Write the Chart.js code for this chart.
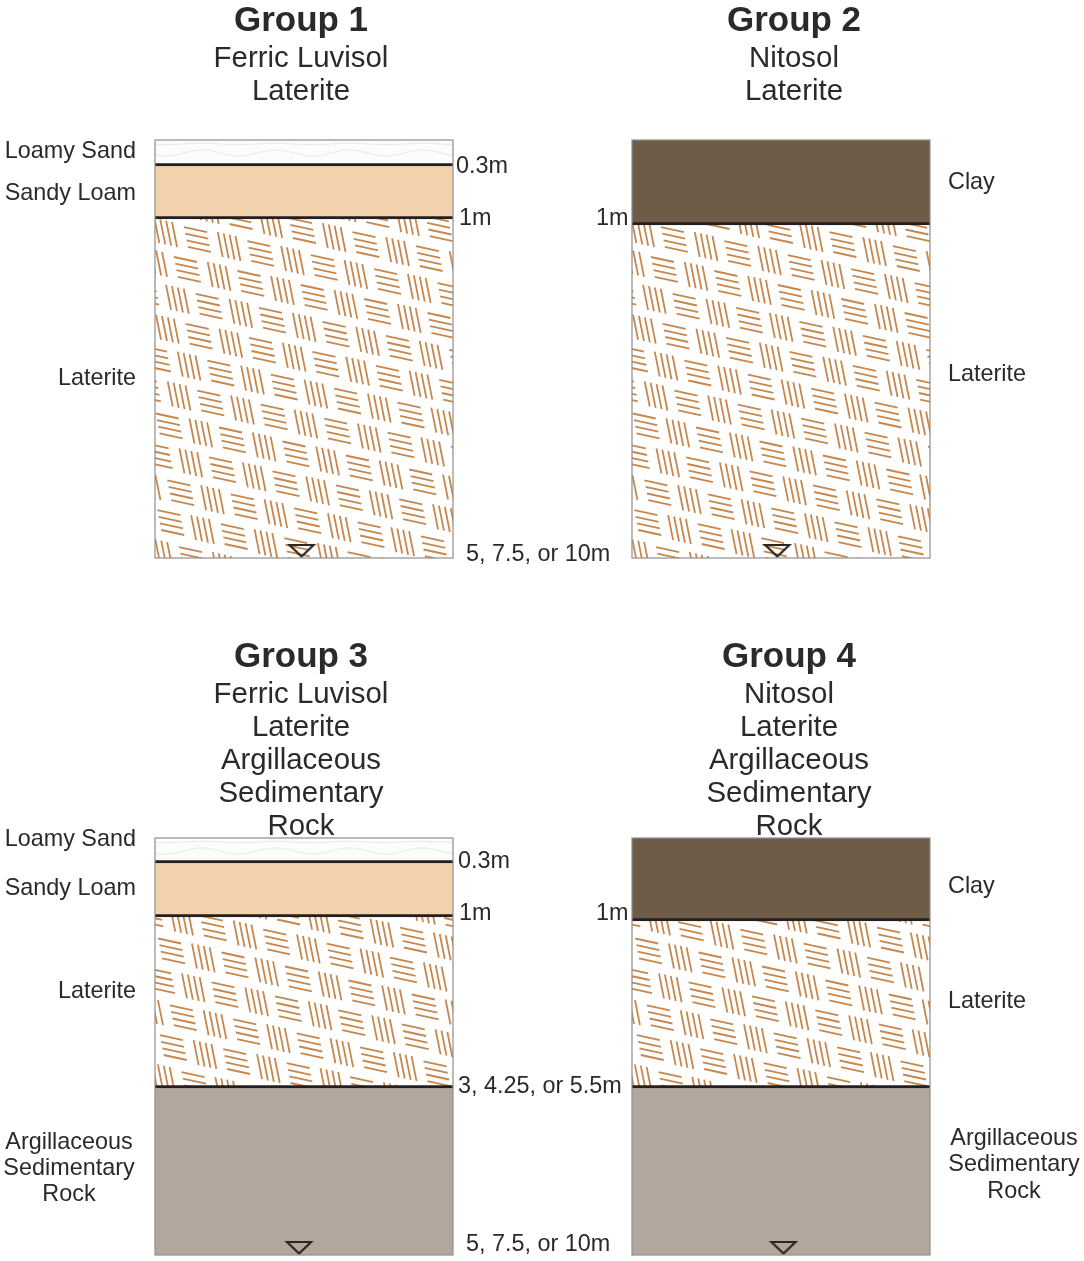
<!DOCTYPE html>
<html>
<head>
<meta charset="utf-8">
<title>Soil profiles</title>
<script src="https://cdn.jsdelivr.net/npm/chart.js@4"></script>
<style>
  html, body { margin: 0; background: #fff; }
  #page { position: relative; width: 1084px; height: 1261px; overflow: hidden; }
  canvas { position: absolute; }
</style>
</head>
<body>
<div id="page"></div>
<script>
// Layer thicknesses are as drawn (the profiles are schematic, not to scale)
const group1Layers = ["Loamy Sand", "Sandy Loam", "Laterite"];
const group1Thickness = [26, 53, 339];
const group1Titles = ["Group 1", "Ferric Luvisol", "Laterite"];
const group1Depths = ["0.3m", "1m", "5, 7.5, or 10m"];

const group2Layers = ["Clay", "Laterite"];
const group2Thickness = [85, 333];
const group2Titles = ["Group 2", "Nitosol", "Laterite"];
const group2Depths = ["1m"];

const group3Layers = ["Loamy Sand", "Sandy Loam", "Laterite", "Argillaceous Sedimentary Rock"];
const group3Thickness = [25, 54, 171, 167];
const group3Titles = ["Group 3", "Ferric Luvisol", "Laterite", "Argillaceous", "Sedimentary", "Rock"];
const group3Depths = ["0.3m", "1m", "3, 4.25, or 5.5m", "5, 7.5, or 10m"];

const group4Layers = ["Clay", "Laterite", "Argillaceous Sedimentary Rock"];
const group4Thickness = [83, 167, 167];
const group4Titles = ["Group 4", "Nitosol", "Laterite", "Argillaceous", "Sedimentary", "Rock"];
const group4Depths = ["1m"];

const FONT = '"Liberation Sans", Arial, sans-serif';
const TEXT = "#2a2a2a";

// Brown basket-weave hatch, drawn on a canvas the size of the chart
function lateriteFill(w, h, ox, oy) {
  const c = document.createElement("canvas");
  c.width = w;
  c.height = h;
  const g = c.getContext("2d");
  g.fillStyle = "#fff";
  g.fillRect(0, 0, w, h);
  g.strokeStyle = "#c8874c";
  g.lineWidth = 1.8;
  for (let q = -30; q < 30; q++) {
    for (let p = -30; p < 30; p++) {
      const cx = ox + p * 31.7 - q * 10;
      const cy = oy + p * 7 + q * 29.9;
      const horizontal = (((p + Math.floor(q / 2)) % 2) + 2) % 2 === 1;
      for (let i = -1.5; i <= 1.5; i++) {
        let x, y, dx, dy;
        if (horizontal) {
          x = cx + i * 1.3; y = cy + i * 6.6; dx = 11.5; dy = 2.5;
        } else {
          x = cx + i * 5.9; y = cy + i * 1.3; dx = 2.5; dy = 12.5;
        }
        g.beginPath();
        g.moveTo(x - dx, y - dy);
        g.lineTo(x + dx, y + dy);
        g.stroke();
      }
    }
  }
  return g.createPattern(c, "no-repeat");
}

// Faint wavy lines of the loamy sand
function sandFill(w, h, top) {
  const c = document.createElement("canvas");
  c.width = w;
  c.height = h;
  const g = c.getContext("2d");
  g.fillStyle = "#fcfcfb";
  g.fillRect(0, 0, w, h);
  g.strokeStyle = "#ebe9e6";
  g.lineWidth = 1;
  for (const [base, amp] of [[4, 0.6], [13, 3]]) {
    g.beginPath();
    for (let x = 0; x < w; x += 2) {
      const y = top + base + amp * Math.sin(x / 11.7);
      if (x === 0) g.moveTo(x, y); else g.lineTo(x, y);
    }
    g.stroke();
  }
  return g.createPattern(c, "no-repeat");
}

function waterMarker() {
  const c = document.createElement("canvas");
  c.width = 30;
  c.height = 18;
  const g = c.getContext("2d");
  g.strokeStyle = "#2b2624";
  g.lineWidth = 2.2;
  g.beginPath();
  g.moveTo(3, 3);
  g.lineTo(27, 3);
  g.lineTo(15, 14.5);
  g.closePath();
  g.stroke();
  return c;
}

const profileText = {
  id: "profileText",
  afterDraw(chart, args, opts) {
    const ctx = chart.ctx;
    ctx.save();
    ctx.textBaseline = "middle";
    for (const t of opts.items) {
      ctx.font = t.font || "23.4px " + FONT;
      ctx.fillStyle = TEXT;
      ctx.textAlign = t.align || "left";
      ctx.fillText(t.text, t.x - opts.left, t.y - opts.top + 2);
    }
    ctx.restore();
  }
};

const boxOutline = {
  id: "boxOutline",
  afterDatasetsDraw(chart) {
    const a = chart.chartArea, ctx = chart.ctx;
    ctx.save();
    ctx.strokeStyle = "#8e8e8e";
    ctx.lineWidth = 1.2;
    ctx.strokeRect(a.left, a.top, a.width, a.height);
    ctx.restore();
  }
};

function titleItems(lines, x) {
  return lines.map((text, i) => ({
    text,
    x,
    y: i === 0 ? 0 : 38 + (i - 1) * 33,
    align: "center",
    font: i === 0 ? "bold 35px " + FONT : "29.4px " + FONT
  }));
}

function shifted(items, dy) {
  return items.map(t => ({ ...t, y: t.y + dy }));
}

function drawProfile(p) {
  const canvas = document.createElement("canvas");
  canvas.width = p.canvas[2];
  canvas.height = p.canvas[3];
  canvas.style.left = p.canvas[0] + "px";
  canvas.style.top = p.canvas[1] + "px";
  document.getElementById("page").appendChild(canvas);

  const [boxL, boxT, boxR, boxB] = p.box;
  const left = boxL - p.canvas[0];
  const top = boxT - p.canvas[1];
  const total = p.thickness.reduce((a, b) => a + b, 0);

  const fills = {
    "Loamy Sand": () => sandFill(canvas.width, canvas.height, top),
    "Sandy Loam": () => "#f2d2ad",
    "Clay": () => "#6f5c48",
    "Laterite": () => lateriteFill(canvas.width, canvas.height, left + p.hatch[0], top + p.hatch[1]),
    "Argillaceous Sedimentary Rock": () => "#b1a79c"
  };

  const datasets = p.layers.map((name, i) => ({
    type: "bar",
    label: name,
    data: [{ x: 0.5, y: p.thickness[i] }],
    backgroundColor: fills[name](),
    borderColor: "#231f20",
    borderWidth: i < p.layers.length - 1 ? { bottom: 3 } : 0,
    borderSkipped: false,
    barThickness: boxR - boxL,
    stack: "profile",
    order: 2
  }));
  // Water table marker
  datasets.push({
    type: "scatter",
    label: "Water table",
    data: [{ x: p.water, y: total - 7 }],
    pointStyle: waterMarker(),
    clip: false,
    order: 1
  });

  new Chart(canvas, {
    data: { datasets },
    options: {
      responsive: false,
      animation: false,
      devicePixelRatio: 1,
      layout: {
        padding: {
          left,
          top,
          right: p.canvas[0] + p.canvas[2] - boxR,
          bottom: p.canvas[1] + p.canvas[3] - boxB
        }
      },
      scales: {
        x: { type: "linear", min: 0, max: 1, stacked: true, display: false },
        y: { type: "linear", stacked: true, reverse: true, min: 0, max: total, display: false }
      },
      plugins: {
        legend: { display: false },
        tooltip: { enabled: false },
        profileText: { items: p.text, left: p.canvas[0], top: p.canvas[1] }
      }
    },
    plugins: [boxOutline, profileText]
  });
}

drawProfile({
  canvas: [0, 0, 640, 620],
  box: [155, 140, 453, 558],
  layers: group1Layers,
  thickness: group1Thickness,
  water: 0.49,
  hatch: [10.7, 92.5],
  text: [
    ...shifted(titleItems(group1Titles, 301), 19),
    { text: "Loamy Sand", x: 136, y: 150, align: "right" },
    { text: "Sandy Loam", x: 136, y: 192, align: "right" },
    { text: "Laterite", x: 136, y: 377, align: "right" },
    { text: group1Depths[0], x: 456, y: 165 },
    { text: group1Depths[1], x: 459, y: 217 },
    { text: group1Depths[2], x: 466, y: 553 }
  ]
});

drawProfile({
  canvas: [520, 0, 564, 620],
  box: [632, 140, 930, 558],
  layers: group2Layers,
  thickness: group2Thickness,
  water: 0.485,
  hatch: [10.7, 92.5],
  text: [
    ...shifted(titleItems(group2Titles, 794), 19),
    { text: "Clay", x: 948, y: 181 },
    { text: "Laterite", x: 948, y: 373 },
    { text: group2Depths[0], x: 596, y: 217 }
  ]
});

drawProfile({
  canvas: [0, 630, 640, 631],
  box: [155, 838, 453, 1255],
  layers: group3Layers,
  thickness: group3Thickness,
  water: 0.48,
  hatch: [36.6, 53.1],
  text: [
    ...shifted(titleItems(group3Titles, 301), 655),
    { text: "Loamy Sand", x: 136, y: 838, align: "right" },
    { text: "Sandy Loam", x: 136, y: 887, align: "right" },
    { text: "Laterite", x: 136, y: 990, align: "right" },
    { text: "Argillaceous", x: 69, y: 1141, align: "center" },
    { text: "Sedimentary", x: 69, y: 1167, align: "center" },
    { text: "Rock", x: 69, y: 1193, align: "center" },
    { text: group3Depths[0], x: 458, y: 860 },
    { text: group3Depths[1], x: 459, y: 912 },
    { text: group3Depths[2], x: 458, y: 1085 },
    { text: group3Depths[3], x: 466, y: 1243 }
  ]
});

drawProfile({
  canvas: [520, 630, 564, 631],
  box: [632, 838, 930, 1255],
  layers: group4Layers,
  thickness: group4Thickness,
  water: 0.51,
  hatch: [36.6, 53.1],
  text: [
    ...shifted(titleItems(group4Titles, 789), 655),
    { text: "Clay", x: 948, y: 885 },
    { text: "Laterite", x: 948, y: 1000 },
    { text: "Argillaceous", x: 1014, y: 1137, align: "center" },
    { text: "Sedimentary", x: 1014, y: 1163, align: "center" },
    { text: "Rock", x: 1014, y: 1190, align: "center" },
    { text: group4Depths[0], x: 596, y: 912 }
  ]
});
</script>
</body>
</html>
